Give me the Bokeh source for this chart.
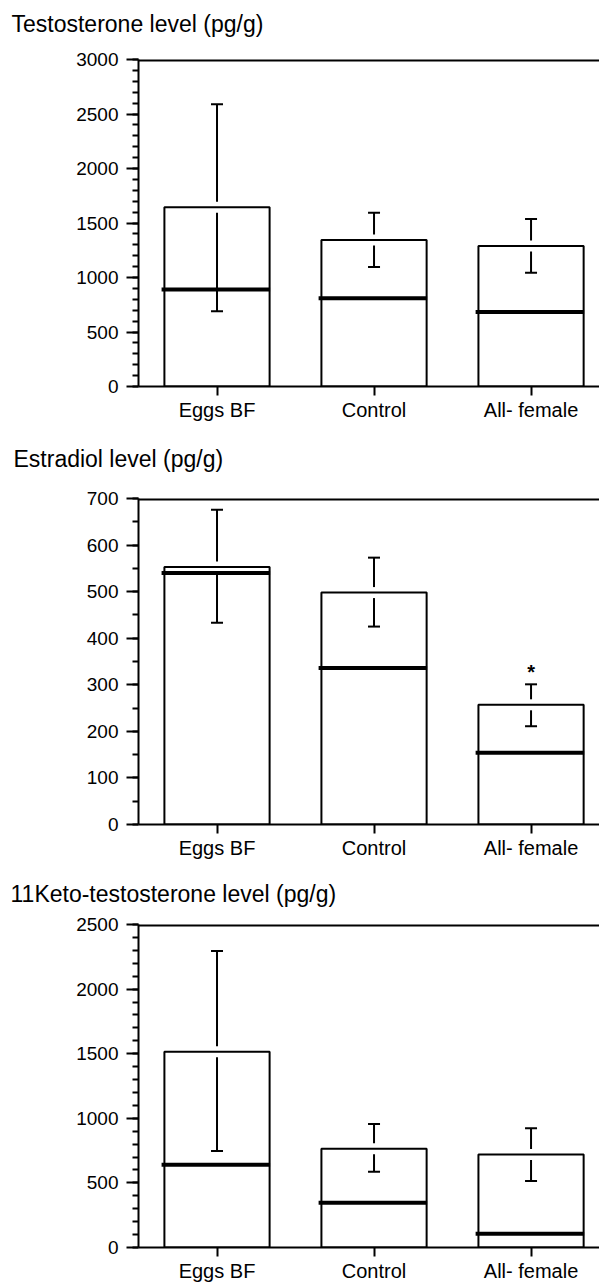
from bokeh.plotting import figure
from bokeh.layouts import column
from bokeh.models import Range1d, FixedTicker, Whisker, TeeHead, ColumnDataSource, Span
from bokeh.embed import file_html
from bokeh.resources import INLINE
from bokeh.core.properties import value

groups = ["Eggs BF", "Control", "All- female"]

testo_title = "Testosterone level (pg/g)"
testo_mean = [1645, 1345, 1290]
testo_median = [890, 810, 683]
testo_upper = [2590, 1595, 1537]
testo_lower = [690, 1096, 1044]

estra_title = "Estradiol level (pg/g)"
estra_mean = [553, 498, 257]
estra_median = [540, 336, 154]
estra_upper = [676, 573, 301]
estra_lower = [433, 425, 211]
estra_star = ["", "", "*"]

keto_title = "11Keto-testosterone level (pg/g)"
keto_mean = [1516, 765, 719]
keto_median = [640, 346, 107]
keto_upper = [2294, 956, 923]
keto_lower = [747, 586, 515]

FONT = "Liberation Sans"
BAR_W = 0.67
W = 599


def header(title, height, text_bottom, offset):
    h = figure(width=W, height=height, x_range=Range1d(0, 1), y_range=Range1d(0, 1),
               output_backend="svg", toolbar_location=None,
               x_axis_type=None, y_axis_type=None, title=title,
               min_border_left=138, min_border_right=0,
               min_border_top=text_bottom, min_border_bottom=0)
    h.outline_line_color = None
    h.grid.visible = False
    h.title.align = "left"
    h.title.offset = offset
    h.title.standoff = 0
    h.title.vertical_align = "bottom"
    h.title.text_font = FONT
    h.title.text_font_size = "23px"
    h.title.text_font_style = "normal"
    h.title.text_color = "black"
    return h


def panel(means, medians, uppers, lowers, ymax, major, minor,
          height, border_top, border_bottom, stars=None):
    xs = [i + 0.5 for i in range(len(groups))]
    src = ColumnDataSource(dict(
        x=xs, top=means, median=medians, upper=uppers, lower=lowers,
        ml=[x - BAR_W / 2 - 0.018 for x in xs],
        mr=[x + BAR_W / 2 + 0.003 for x in xs],
    ))
    p = figure(width=W, height=height,
               x_range=Range1d(0, 2.936), y_range=Range1d(0, ymax),
               output_backend="svg", toolbar_location=None,
               min_border_left=138, min_border_right=0,
               min_border_top=border_top, min_border_bottom=border_bottom)
    p.outline_line_color = None
    p.xgrid.visible = False
    p.ygrid.visible = False

    # y axis
    yax = p.yaxis[0]
    yax.ticker = FixedTicker(ticks=list(range(0, ymax + 1, major)),
                             minor_ticks=list(range(0, ymax + 1, minor)))
    yax.axis_line_width = 2
    yax.axis_line_color = "black"
    yax.major_tick_line_width = 2
    yax.major_tick_line_color = "black"
    yax.major_tick_out = 12
    yax.major_tick_in = 0
    yax.minor_tick_line_width = 2
    yax.minor_tick_line_color = "black"
    yax.minor_tick_out = 6
    yax.minor_tick_in = 0
    yax.major_label_standoff = 8
    yax.major_label_text_font = FONT
    yax.major_label_text_font_size = "19px"
    yax.major_label_text_color = "black"

    # x axis
    xax = p.xaxis[0]
    xax.ticker = FixedTicker(ticks=xs)
    xax.major_label_overrides = {x: g for x, g in zip(xs, groups)}
    xax.axis_line_width = 2
    xax.axis_line_color = "black"
    xax.major_tick_line_width = 2
    xax.major_tick_line_color = "black"
    xax.major_tick_out = 9
    xax.major_tick_in = 0
    xax.minor_tick_line_color = None
    xax.major_label_standoff = 3
    xax.major_label_text_font = FONT
    xax.major_label_text_font_size = "20px"
    xax.major_label_text_color = "black"

    # top frame line (half of it is clipped by the frame edge)
    p.add_layout(Span(location=ymax, dimension="width", line_width=4, line_color="black"))

    # error bars (drawn underneath)
    w = Whisker(source=src, base="x", upper="upper", lower="lower",
                line_width=2, line_color="black",
                upper_head=TeeHead(size=12, line_width=2, line_color="black"),
                lower_head=TeeHead(size=12, line_width=2, line_color="black"),
                level="underlay")
    p.add_layout(w)

    # white gap where the error bar crosses the bar top
    p.rect(x="x", y="top", width=8, height=11, width_units="screen", height_units="screen",
           fill_color="white", line_color=None, source=src)

    # bars
    p.vbar(x="x", top="top", bottom=0, width=BAR_W, source=src,
           fill_color=None, line_color="black", line_width=2)

    # medians
    p.segment(x0="ml", y0="median", x1="mr", y1="median", source=src,
              line_width=4, line_color="black", line_cap="butt")

    if stars is not None:
        ssrc = ColumnDataSource(dict(x=xs, y=uppers, t=stars))
        p.text(x="x", y="y", text="t", source=ssrc, text_font=value(FONT),
               text_font_size="20px", text_font_style="bold", text_align="center",
               text_baseline="alphabetic", y_offset=-12, text_color="black")
    return p


h1 = header(testo_title, 40, 36, -127)
p1 = panel(testo_mean, testo_median, testo_upper, testo_lower,
           3000, 500, 100, 398, 19, 52)
h2 = header(estra_title, 42, 33, -125)
p2 = panel(estra_mean, estra_median, estra_upper, estra_lower,
           700, 100, 50, 388, 18, 44, stars=estra_star)
h3 = header(keto_title, 42, 38, -128)
p3 = panel(keto_mean, keto_median, keto_upper, keto_lower,
           2500, 500, 100, 374, 14, 33)

layout = column(h1, p1, h2, p2, h3, p3, spacing=0)

with open("out.html", "w") as f:
    f.write(file_html(layout, INLINE))
